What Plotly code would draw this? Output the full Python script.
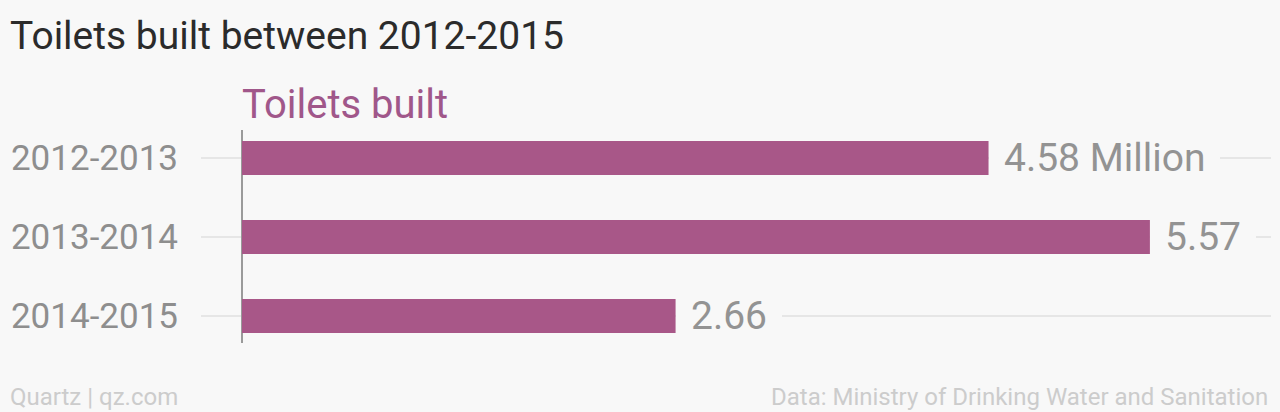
import plotly.graph_objects as go

categories = ["2012-2013", "2013-2014", "2014-2015"]
values = [4.58, 5.57, 2.66]
value_labels = ["4.58 Million", "5.57", "2.66"]

title_text = "Toilets built between 2012-2015"
series_name = "Toilets built"
source_left = "Quartz | qz.com"
source_right = "Data: Ministry of Drinking Water and Sanitation"

BG = "#f8f8f8"
BAR = "#a85788"
FONT = "Roboto"

fig = go.Figure()
fig.add_trace(go.Bar(
    x=values, y=categories, orientation="h",
    marker=dict(color=BAR, line=dict(width=0)),
    hoverinfo="skip", showlegend=False,
))

annotations = []
for c, v, t in zip(categories, values, value_labels):
    annotations.append(dict(
        x=v, y=c, xref="x", yref="y", text=t, showarrow=False,
        xanchor="left", yanchor="middle", bgcolor=BG, borderpad=14,
        borderwidth=1, bordercolor=BG,
        font=dict(family=FONT, size=39, color="#939393"),
    ))

# series label above bars
annotations.append(dict(
    x=0, y=1, xref="x", yref="paper", text=series_name, showarrow=False,
    xanchor="left", yanchor="bottom", yshift=0, xshift=-2,
    font=dict(family=FONT, size=40, color="#a0578a"),
))
# title
annotations.append(dict(
    x=-191/1070, y=1, xref="paper", yref="paper", text=title_text, showarrow=False,
    xanchor="left", yanchor="bottom", yshift=69, xshift=-2,
    font=dict(family=FONT, size=39, color="#2b2b2b"),
))
# footer
annotations.append(dict(
    x=-191/1070, y=0, xref="paper", yref="paper", text=source_left, showarrow=False,
    xanchor="left", yanchor="top", yshift=-38, xshift=-2,
    font=dict(family=FONT, size=24, color="#cccccc"),
))
annotations.append(dict(
    x=1067/1070, y=0, xref="paper", yref="paper", text=source_right, showarrow=False,
    xanchor="right", yanchor="top", yshift=-38, xshift=2,
    font=dict(family=FONT, size=24, color="#cccccc"),
))

fig.update_layout(
    width=1280, height=412,
    margin=dict(l=201, r=9, t=130, b=69),
    paper_bgcolor=BG, plot_bgcolor=BG,
    bargap=0.57,
    annotations=annotations,
    xaxis=dict(
        range=[-41/163, 1029/163], showgrid=False, showticklabels=False,
        zeroline=True, zerolinecolor="#9a9a9a", zerolinewidth=2,
        fixedrange=True,
    ),
    yaxis=dict(
        range=[2.342, -0.354], showgrid=True, gridcolor="#e6e6e6", gridwidth=1.5,
        zeroline=False, ticks="", ticklabelstandoff=22,
        tickfont=dict(family=FONT, size=35, color="#8e8e8e"),
        fixedrange=True,
    ),
)

fig.write_html(
    "out.html",
    config={"displayModeBar": False},
    post_script="document.body.style.margin='0';document.body.style.background='#f8f8f8';",
)
